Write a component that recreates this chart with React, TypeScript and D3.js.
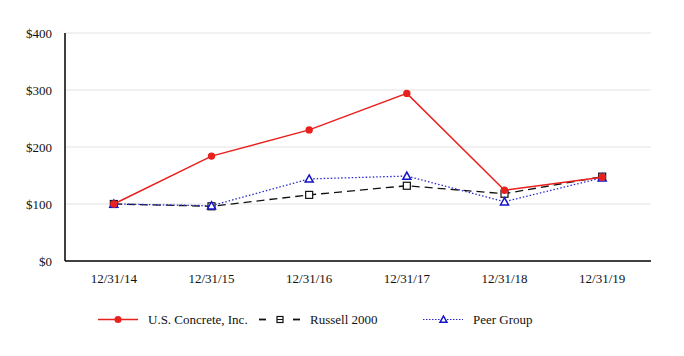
import React from "react";
import * as d3 from "d3";

const categories = ["12/31/14", "12/31/15", "12/31/16", "12/31/17", "12/31/18", "12/31/19"];
const usConcrete = [100, 184, 230, 294, 124, 147];
const russell = [100, 96, 116, 132, 118, 148];
const peerGroup = [100, 97, 144, 149, 104, 146];
const yTicks = [0, 100, 200, 300, 400];

const W = 684, H = 356;
const left = 65, right = 651, top = 33, bottom = 261;
const fontStyle = { fontFamily: "Liberation Serif" };
const fs = 13;

export default function App() {
  const x = d3.scalePoint<string>().domain(categories).range([left, right]).padding(0.5);
  const y = d3.scaleLinear().domain([0, 400]).range([bottom, top]);
  const line = d3.line<number>().x((_, i) => x(categories[i])!).y((d) => y(d));

  const tri = (cx: number, cy: number, s = 4) =>
    `M${cx},${cy - s} L${cx + s},${cy + s * 0.8} L${cx - s},${cy + s * 0.8} Z`;

  const ly = 319.5;

  return (
    <svg width={W} height={H} style={{ position: "absolute", left: 0, top: 0 }}>
      <rect width={W} height={H} fill="#fff" />
      {yTicks.map((t) => (
        <g key={t}>
          {t > 0 && <line x1={left} x2={right} y1={y(t)} y2={y(t)} stroke="#e3e3e3" strokeWidth={1} />}
          <text x={52} y={y(t) + 4.5} textAnchor="end" style={fontStyle} fontSize={fs} fill="#111">
            ${t}
          </text>
        </g>
      ))}
      <line x1={left} x2={left} y1={top} y2={bottom} stroke="#000" strokeWidth={1.5} />
      <line x1={left} x2={right} y1={bottom} y2={bottom} stroke="#000" strokeWidth={1.5} />
      {categories.map((c) => (
        <text key={c} x={x(c)} y={282.5} textAnchor="middle" style={fontStyle} fontSize={fs} fill="#111">
          {c}
        </text>
      ))}
      {/* Russell 2000 */}
      <path d={line(russell)!} fill="none" stroke="#111" strokeWidth={1.3} strokeDasharray="8,5" />
      {russell.map((v, i) => (
        <rect key={i} x={x(categories[i])! - 3.5} y={y(v) - 3.5} width={7} height={7} fill="#fff" stroke="#111" strokeWidth={1.2} />
      ))}
      {/* Peer group */}
      <path d={line(peerGroup)!} fill="none" stroke="#2a2acc" strokeWidth={1.3} strokeDasharray="1.5,2" />
      {peerGroup.map((v, i) => (
        <path key={i} d={tri(x(categories[i])!, y(v))} fill="#fff" stroke="#1414c8" strokeWidth={1.5} />
      ))}
      {/* US Concrete */}
      <path d={line(usConcrete)!} fill="none" stroke="#e8201e" strokeWidth={1.5} />
      {usConcrete.map((v, i) => (
        <circle key={i} cx={x(categories[i])!} cy={y(v)} r={3.7} fill="#e8201e" />
      ))}
      {/* Legend */}
      <g>
        <line x1={98} x2={138} y1={ly} y2={ly} stroke="#e8201e" strokeWidth={1.5} />
        <circle cx={118} cy={ly} r={3.5} fill="#e8201e" />
        <text x={148} y={ly + 4.5} style={fontStyle} fontSize={fs} fill="#111">U.S. Concrete, Inc.</text>

        <line x1={259} x2={266} y1={ly} y2={ly} stroke="#111" strokeWidth={1.8} />
        <rect x={277} y={ly - 3} width={6} height={6} fill="#fff" stroke="#111" strokeWidth={1.2} />
        <line x1={277} x2={283} y1={ly} y2={ly} stroke="#111" strokeWidth={1} />
        <line x1={293} x2={300} y1={ly} y2={ly} stroke="#111" strokeWidth={1.8} />
        <text x={310} y={ly + 4.5} style={fontStyle} fontSize={fs} fill="#111">Russell 2000</text>

        <line x1={423} x2={463} y1={ly} y2={ly} stroke="#2a2acc" strokeWidth={1.2} strokeDasharray="1.5,1.5" />
        <path d={tri(443.5, ly, 3.5)} fill="#fff" stroke="#1414c8" strokeWidth={1.5} />
        <text x={473} y={ly + 4.5} style={fontStyle} fontSize={fs} fill="#111">Peer Group</text>
      </g>
    </svg>
  );
}
